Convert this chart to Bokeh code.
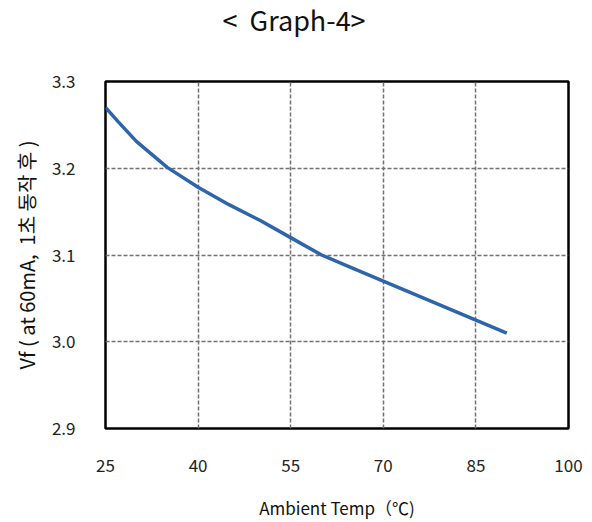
from bokeh.plotting import figure
from bokeh.models import Range1d, FixedTicker, Title, NumeralTickFormatter
from bokeh.embed import file_html
from bokeh.resources import INLINE

# Forward voltage vs. ambient temperature
temps = [25, 27, 30, 35, 40, 45, 50, 55, 60, 65, 70, 75, 80, 85, 90]
vf = [3.270, 3.254, 3.231, 3.201, 3.178, 3.158, 3.140, 3.120, 3.100,
      3.085, 3.070, 3.055, 3.040, 3.025, 3.010]

x_ticks = [25, 40, 55, 70, 85, 100]
y_ticks = [2.9, 3.0, 3.1, 3.2, 3.3]

FONT = "Noto Sans CJK KR"
NBSP = "\u00a0"

p = figure(width=592, height=522, output_backend="svg", toolbar_location=None,
           x_range=Range1d(25, 100), y_range=Range1d(2.9, 3.3),
           min_border_left=105, min_border_right=24,
           min_border_top=81, min_border_bottom=90)

p.line(temps, vf, line_color="#2e64ab", line_width=3.5)

# blank band between the frame and the heading
p.add_layout(Title(text=" ", text_font_size="1px", standoff=43), "above")
# heading
p.add_layout(Title(text="<" + NBSP * 2 + "Graph-4>", align="left", offset=117,
                   text_font=FONT, text_font_size="27px",
                   text_font_style="normal", text_color="#111111",
                   standoff=-6), "above")

p.outline_line_color = "black"
p.outline_line_width = 2.5
p.background_fill_color = "white"
p.border_fill_color = "white"

for ax in (p.xaxis[0], p.yaxis[0]):
    ax.axis_line_color = None
    ax.major_tick_line_color = None
    ax.minor_tick_line_color = None
    ax.major_label_text_font = FONT
    ax.major_label_text_font_size = "17px"
    ax.major_label_text_color = "#222222"
    ax.axis_label_text_font = FONT
    ax.axis_label_text_font_size = "17px"
    ax.axis_label_text_font_style = "normal"
    ax.axis_label_text_color = "#111111"

p.xaxis.ticker = FixedTicker(ticks=x_ticks)
p.yaxis.ticker = FixedTicker(ticks=y_ticks)
p.yaxis.formatter = NumeralTickFormatter(format="0.0")
p.xaxis.major_label_standoff = 24
p.yaxis.major_label_standoff = 24
p.xaxis.axis_label = "Ambient Temp（℃)"
p.yaxis.axis_label = ("Vf" + NBSP + "(" + NBSP + "at 60mA," + NBSP * 2
                      + "1초 동작 후" + NBSP + ")")
p.yaxis.axis_label_text_font_size = "20px"
p.xaxis.axis_label_standoff = 20
p.yaxis.axis_label_standoff = 8

p.xgrid.ticker = FixedTicker(ticks=[40, 55, 70, 85])
p.ygrid.ticker = FixedTicker(ticks=[3.0, 3.1, 3.2])
for g in (p.xgrid[0], p.ygrid[0]):
    g.grid_line_color = "#707070"
    g.grid_line_width = 1.5
    g.grid_line_dash = "4 2"

open("out.html", "w").write(file_html(p, INLINE))
